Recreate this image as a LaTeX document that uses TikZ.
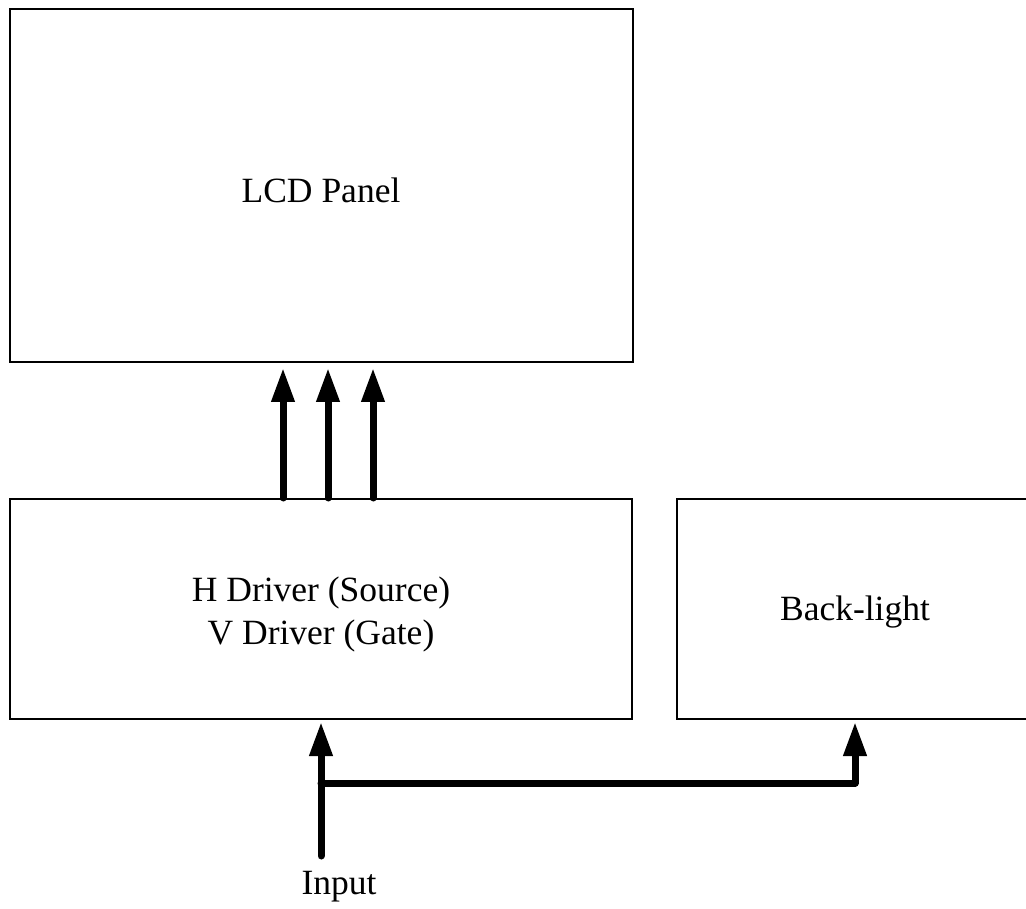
\documentclass[tikz,border=0pt]{standalone}
\usepackage{fontspec}
\setmainfont{Liberation Serif}
\usetikzlibrary{arrows.meta}
\begin{document}
\begin{tikzpicture}[x=1pt,y=-1pt,
  box/.style={draw=black,line width=2pt,inner sep=0pt,anchor=center},
  lbl/.style={inner sep=0pt,align=center,font=\fontsize{35.5}{43}\selectfont},
  bus/.style={line width=7pt,line cap=round,line join=round},
  busarr/.style={bus,-{Triangle[length=34pt,width=22pt]}}]
\fill[white] (0,0) rectangle (1026,909);
\clip (0,0) rectangle (1026,909);
\node[box,minimum width=623pt,minimum height=353pt] (lcd) at (321.5,185.5) {};
\node[box,minimum width=622pt,minimum height=220pt] (drv) at (321,609) {};
\node[box,minimum width=356pt,minimum height=220pt] (bl) at (855,609) {};
\node[lbl] (lcdt) at (321,190) {LCD Panel};
\node[lbl] (drvt) at (321,614) {H Driver (Source)\\V Driver (Gate)};
\node[lbl] (blt) at (855,612) {Back-light};
\node[lbl] (inp) at (339,887) {Input};
\coordinate (in) at (321,856);
\coordinate (j) at (321,783);
\coordinate (k) at (855,783);
\foreach \xx in {283,328,373}{
  \draw[busarr,shorten >=5pt] (\xx,0 |- drv.north) -- (\xx,0 |- lcd.south);
}
\draw[busarr,shorten >=2pt] (in) -- (in |- drv.south);
\draw[busarr,shorten >=2pt] (j) -- (k) -- (bl.south);
\end{tikzpicture}
\end{document}
